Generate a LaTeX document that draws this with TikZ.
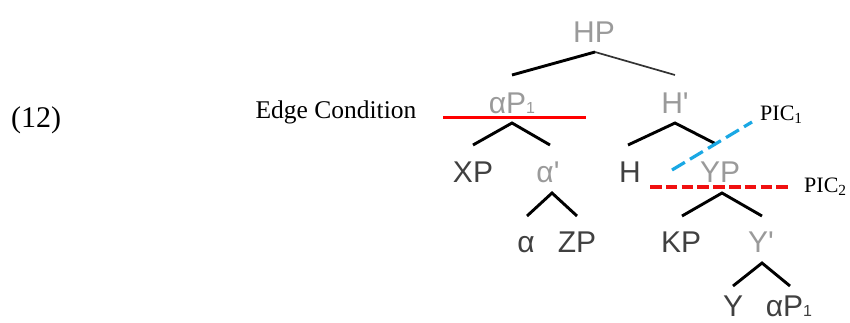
\documentclass[tikz,border=0pt]{standalone}
\usepackage{fontspec}
\setmainfont{Liberation Serif}
\newfontfamily\treefont[Ligatures=TeXOff]{Liberation Sans}
\newcommand\treesubone{{\fontsize{16}{16}\selectfont 1}}
\definecolor{lightlbl}{HTML}{9A9A9A}
\definecolor{darklbl}{HTML}{404040}
\definecolor{picblue}{HTML}{1AA8E4}
\definecolor{picred}{HTML}{F01010}
\begin{document}
\begin{tikzpicture}[x=1pt,y=-1pt,
  lbl/.style={font=\treefont\fontsize{30}{36}\selectfont, anchor=base, inner sep=0pt},
  light/.style={lbl, text=lightlbl},
  dark/.style={lbl, text=darklbl},
  serif/.style={font=\fontsize{#1}{#1}\selectfont, inner sep=0pt},
  branch/.style={line width=2.9pt, black},
  thinbranch/.style={line width=1.7pt, black!80},
  edgeline/.style={line width=3pt, red},
  bluedash/.style={line width=3.2pt, picblue, dash pattern=on 15pt off 6pt},
  reddash/.style={line width=3.2pt, picred, dash pattern=on 11.5pt off 4.3pt}]
\useasboundingbox (0,0) rectangle (850,322);

% labels on the left
\node[serif=30, anchor=base west] (num) at (11,127) {(12)};
\node[serif=25.5, anchor=base] (ec) at (336,118) {Edge Condition};

% tree labels
\node[light] (HP)  at (594,42) {HP};
\node[light] (aP1) at (512,113) {αP\treesubone};
\node[light] (Hb)  at (675,113) {H'};
\node[dark]  (XP)  at (473,182) {XP};
\node[light] (ab)  at (548,182) {α'};
\node[dark]  (H)   at (630,182) {H};
\node[light] (YP)  at (720,182) {YP};
\node[dark]  (al)  at (526,252) {α};
\node[dark]  (ZP)  at (577,252) {ZP};
\node[dark]  (KP)  at (681,252) {KP};
\node[light] (Yb)  at (761,252) {Y'};
\node[dark]  (Y)   at (733,316) {Y};
\node[dark]  (aP2) at (789,316) {αP\treesubone};

% branch points
\coordinate (hpA) at (595,52);  \coordinate (hpL) at (512,75);  \coordinate (hpR) at (675,75);
\coordinate (apA) at (512,123); \coordinate (apL) at (473,145); \coordinate (apR) at (550,145);
\coordinate (hbA) at (675,123); \coordinate (hbL) at (628,145); \coordinate (hbR) at (716,144);
\coordinate (abA) at (552,193); \coordinate (abL) at (527,216); \coordinate (abR) at (577,216);
\coordinate (ypA) at (722,193); \coordinate (ypL) at (682,216); \coordinate (ypR) at (762,216);
\coordinate (ybA) at (762,263); \coordinate (ybL) at (733,286); \coordinate (ybR) at (790,286);

\draw[branch] (hpL) -- (hpA);
\draw[thinbranch] (hpA) -- (hpR);
\draw[branch] (apL) -- (apA) -- (apR);
\draw[branch] (hbL) -- (hbA) -- (hbR);
\draw[branch] (abL) -- (abA) -- (abR);
\draw[branch] (ypL) -- (ypA) -- (ypR);
\draw[branch] (ybL) -- (ybA) -- (ybR);

% edge condition line and PIC lines
\coordinate (ecL) at (443,117); \coordinate (ecR) at (586,117);
\draw[edgeline] (ecL) -- (ecR);

\coordinate (p1a) at (672,170); \coordinate (p1b) at (752,122);
\draw[bluedash] (p1a) -- (p1b);
\node[serif=22, anchor=base west] (pic1) at (760,120) {PIC\textsubscript{1}};

\coordinate (p2a) at (650,187); \coordinate (p2b) at (788,187);
\draw[reddash] (p2a) -- (p2b);
\node[serif=22, anchor=base west] (pic2) at (804,192) {PIC\textsubscript{2}};
\end{tikzpicture}
\end{document}
